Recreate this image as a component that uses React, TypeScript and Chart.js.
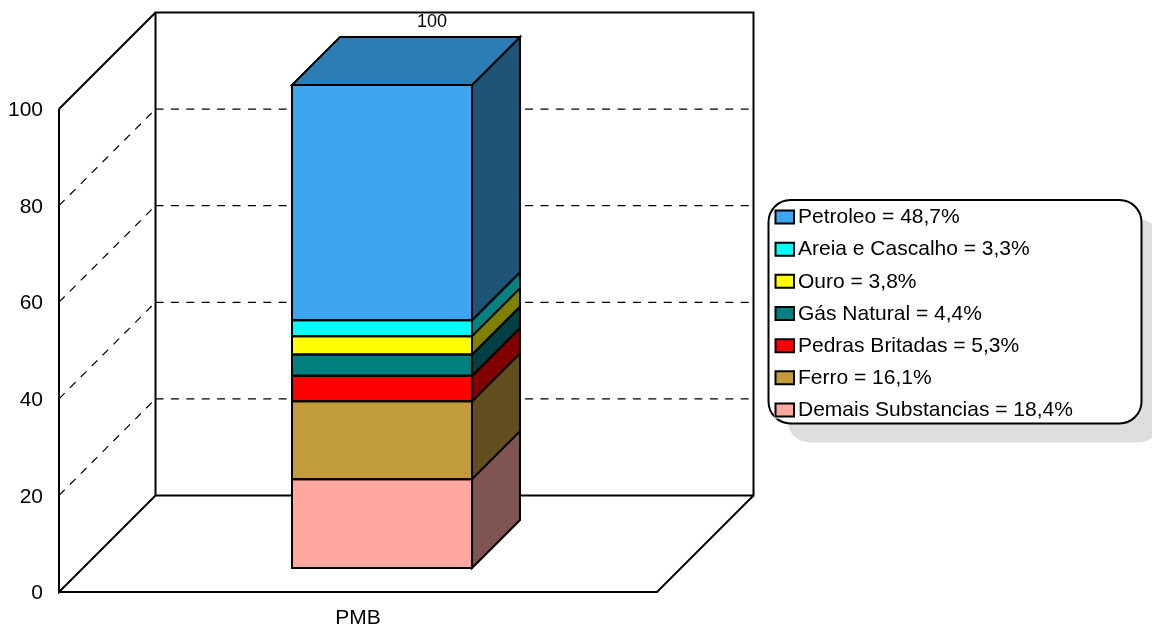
import React, { useEffect, useRef } from "react";
import { Chart, registerables } from "chart.js";

Chart.register(...registerables);

const categories = ["PMB"];
const seriesNames = ["Demais Substancias", "Ferro", "Pedras Britadas", "Gás Natural", "Ouro", "Areia e Cascalho", "Petroleo"];
const seriesValues = [18.4, 16.1, 5.3, 4.4, 3.8, 3.3, 48.7];
const seriesColors = ["#FFA8A0", "#C29B3A", "#FF0000", "#008080", "#FFFF00", "#00FFFF", "#3CA6F0"];
const sideColors = ["#805450", "#614D1D", "#800000", "#004040", "#808000", "#008080", "#1E5378"];
const topColor = "#2D7DB5";
const totalLabel = "100";
const yTicks = [0, 20, 40, 60, 80, 100];

const FONT = "'Liberation Sans', Arial, sans-serif";
const WALL = 96.5;
const BAR_DEPTH = 48;
const BAR_SHIFT = 24;
const ROW = 32.17;
const LEGEND = { left: 768.5, top: 200, right: 1141.5, bottom: 423.5, radius: 22, shadow: 19, firstRow: 217 };

const threeD = {
  id: "threeD",
  afterLayout(chart: any) {
    const l = chart.legend;
    const pad = l.options.labels.padding;
    l.left = 775 - pad;
    l.top = LEGEND.firstRow + 0.5 - pad - l.options.labels.font.size / 2;
    l.right = l.left + l.width;
    l.bottom = l.top + l.height;
  },
  beforeDraw(chart: any) {
    const { ctx } = chart;
    const { left: L, top: T, right: R, bottom: B } = LEGEND;
    ctx.save();
    ctx.fillStyle = "#DEDEDE";
    ctx.beginPath();
    ctx.roundRect(L + LEGEND.shadow, T + LEGEND.shadow, R - L, B - T, LEGEND.radius);
    ctx.fill();
    ctx.fillStyle = "#FFFFFF";
    ctx.strokeStyle = "#000000";
    ctx.lineWidth = 2;
    ctx.beginPath();
    ctx.roundRect(L, T, R - L, B - T, LEGEND.radius);
    ctx.fill();
    ctx.stroke();
    ctx.restore();
  },
  beforeDatasetsDraw(chart: any) {
    const { ctx, chartArea: a, scales } = chart;
    ctx.save();
    ctx.strokeStyle = "#000000";
    ctx.lineWidth = 1.2;
    ctx.setLineDash([8, 7.4]);
    yTicks.slice(1, -1).forEach((v) => {
      const y = scales.y.getPixelForValue(v);
      ctx.beginPath();
      ctx.moveTo(a.left, y);
      ctx.lineTo(a.left + WALL, y - WALL);
      ctx.stroke();
      ctx.beginPath();
      ctx.moveTo(a.left + WALL, y - WALL);
      ctx.lineTo(a.right + WALL, y - WALL);
      ctx.stroke();
    });
    ctx.setLineDash([]);
    ctx.lineWidth = 2;
    ctx.beginPath();
    ctx.rect(a.left + WALL, a.top - WALL, a.right - a.left, a.bottom - a.top);
    ctx.moveTo(a.left, a.top);
    ctx.lineTo(a.left + WALL, a.top - WALL);
    ctx.moveTo(a.left, a.top);
    ctx.lineTo(a.left, a.bottom);
    ctx.lineTo(a.left + WALL, a.bottom - WALL);
    ctx.moveTo(a.left, a.bottom);
    ctx.lineTo(a.right, a.bottom);
    ctx.lineTo(a.right + WALL, a.bottom - WALL);
    ctx.stroke();
    ctx.restore();
    ctx.save();
    ctx.translate(BAR_SHIFT, -BAR_SHIFT);
  },
  afterDatasetsDraw(chart: any) {
    const { ctx } = chart;
    ctx.save();
    ctx.strokeStyle = "#000000";
    ctx.lineWidth = 2;
    ctx.lineJoin = "miter";
    let topEl: any = null;
    seriesNames.forEach((_, i) => {
      const el = chart.getDatasetMeta(i).data[0];
      const { x, y, base, width } = el.getProps(["x", "y", "base", "width"], true);
      const xl = x - width / 2;
      const xr = x + width / 2;
      ctx.fillStyle = sideColors[i];
      ctx.beginPath();
      ctx.moveTo(xr, base);
      ctx.lineTo(xr + BAR_DEPTH, base - BAR_DEPTH);
      ctx.lineTo(xr + BAR_DEPTH, y - BAR_DEPTH);
      ctx.lineTo(xr, y);
      ctx.closePath();
      ctx.fill();
      ctx.stroke();
      ctx.beginPath();
      ctx.rect(xl, y, width, base - y);
      ctx.stroke();
      topEl = { x, y, xl, xr };
    });
    ctx.fillStyle = topColor;
    ctx.beginPath();
    ctx.moveTo(topEl.xl, topEl.y);
    ctx.lineTo(topEl.xl + BAR_DEPTH, topEl.y - BAR_DEPTH);
    ctx.lineTo(topEl.xr + BAR_DEPTH, topEl.y - BAR_DEPTH);
    ctx.lineTo(topEl.xr, topEl.y);
    ctx.closePath();
    ctx.fill();
    ctx.stroke();
    ctx.fillStyle = "#000000";
    ctx.font = `18px ${FONT}`;
    ctx.textAlign = "center";
    ctx.textBaseline = "middle";
    ctx.fillText(totalLabel, topEl.x + BAR_DEPTH + 2, topEl.y - BAR_DEPTH - 15);
    ctx.restore();
    ctx.restore();

    // legend swatches, same order as the reversed legend rows
    ctx.save();
    ctx.strokeStyle = "#000000";
    ctx.lineWidth = 2;
    [...seriesColors].reverse().forEach((c, i) => {
      const cy = LEGEND.firstRow + i * ROW;
      ctx.fillStyle = "#FFFFFF";
      ctx.fillRect(774, cy - 8.5, 22, 17);
      ctx.fillStyle = c;
      ctx.beginPath();
      ctx.rect(775.5, cy - 6.5, 18.5, 13);
      ctx.fill();
      ctx.stroke();
    });
    ctx.restore();
  },
};

export default function App() {
  const ref = useRef<HTMLCanvasElement>(null);
  useEffect(() => {
    document.body.style.margin = "0";
    const chart = new Chart(ref.current as HTMLCanvasElement, {
      type: "bar",
      data: {
        labels: categories,
        datasets: seriesNames.map((name, i) => ({
          label: `${name} = ${String(seriesValues[i]).replace(".", ",")}%`,
          data: [seriesValues[i]],
          backgroundColor: seriesColors[i],
          borderColor: "#000000",
          borderWidth: 0,
          categoryPercentage: 0.301,
          barPercentage: 1,
        })),
      },
      options: {
        responsive: false,
        animation: false,
        layout: { padding: { top: 109, right: 495, bottom: 0, left: 0 } },
        plugins: {
          legend: {
            display: true,
            position: "chartArea",
            align: "start",
            reverse: true,
            labels: {
              boxWidth: 12.5,
              boxHeight: 13,
              padding: ROW - 21,
              color: "#000000",
              font: { family: FONT, size: 21, lineHeight: 1 },
            },
          },
          tooltip: { enabled: false },
          title: { display: false },
        },
        scales: {
          x: {
            stacked: true,
            grid: { display: false, drawTicks: false },
            border: { display: false },
            ticks: { color: "#000000", padding: 14, font: { family: FONT, size: 21 } },
            afterFit: (s: any) => { s.height = 33; },
          },
          y: {
            stacked: true,
            min: 0,
            max: 100,
            grid: { display: false, drawTicks: false },
            border: { display: false },
            ticks: { stepSize: 20, color: "#000000", padding: 16, labelOffset: 1.5, font: { family: FONT, size: 21 } },
            afterFit: (s: any) => { s.width = 59; },
          },
        },
      } as any,
      plugins: [threeD],
    });
    return () => chart.destroy();
  }, []);
  return <canvas ref={ref} width={1152} height={625} style={{ display: "block" }} />;
}
